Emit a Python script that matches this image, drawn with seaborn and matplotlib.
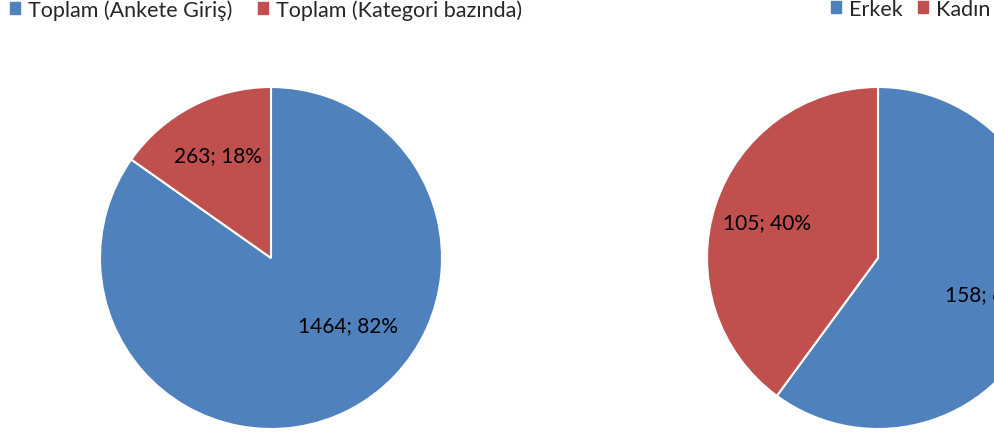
import numpy as np
import matplotlib
matplotlib.use("Agg")
import matplotlib.pyplot as plt
import seaborn as sns
from matplotlib.patches import Patch

sns.set_theme(style="white")
plt.rcParams['font.family'] = ['Lato', 'DejaVu Sans']

# datos
kaynak_kategoriler = ['Toplam (Ankete Giriş)', 'Toplam (Kategori bazında)']
kaynak_degerler = [1464, 263]
kaynak_etiketler = ['1464; 82%', '263; 18%']

cinsiyet_kategoriler = ['Erkek', 'Kadın']
cinsiyet_degerler = [158, 105]
cinsiyet_etiketler = ['158; 60%', '105; 40%']

renkler = ['#4F81BD', '#C0504D']

fig = plt.figure(figsize=(9.94, 4.39), dpi=100)
W, H = 994, 439
R = 171


def pasta(cx, cy, degerler, etiketler, ozel=None):
    ax = fig.add_axes([(cx - R) / W, (H - cy - R) / H, 2 * R / W, 2 * R / H])
    wedges, _ = ax.pie(degerler, colors=renkler, startangle=90, counterclock=False,
                       radius=1, wedgeprops=dict(edgecolor='white', linewidth=1.5))
    for i, (w, lab) in enumerate(zip(wedges, etiketler)):
        ang = np.deg2rad((w.theta1 + w.theta2) / 2)
        x, y = 0.68 * np.cos(ang), 0.68 * np.sin(ang)
        if ozel is not None and i in ozel:
            x, y = ozel[i]
        ax.text(x, y, lab, ha='center', va='center', fontsize=15, color='black')
    ax.set_xlim(-1.0, 1.0)
    ax.set_ylim(-1.0, 1.0)
    ax.set_aspect('equal')
    ax.axis('off')
    return ax


pasta(271, 259, kaynak_degerler, kaynak_etiketler, ozel={0: (0.45, -0.39)})
pasta(878, 259, cinsiyet_degerler, cinsiyet_etiketler)

h1 = [Patch(color=c) for c in renkler]
ortak = dict(loc='upper left', ncol=2, frameon=False, fontsize=15.5,
             handlelength=0.47, handleheight=0.47, handletextpad=0.37,
             borderpad=0, borderaxespad=0)
fig.legend(h1, kaynak_kategoriler, bbox_to_anchor=(10 / W, 1.0),
           columnspacing=1.2, **ortak)
fig.legend(h1, cinsiyet_kategoriler, bbox_to_anchor=(831 / W, 1.0),
           columnspacing=0.7, **ortak)

fig.savefig('out.png', dpi=100)
